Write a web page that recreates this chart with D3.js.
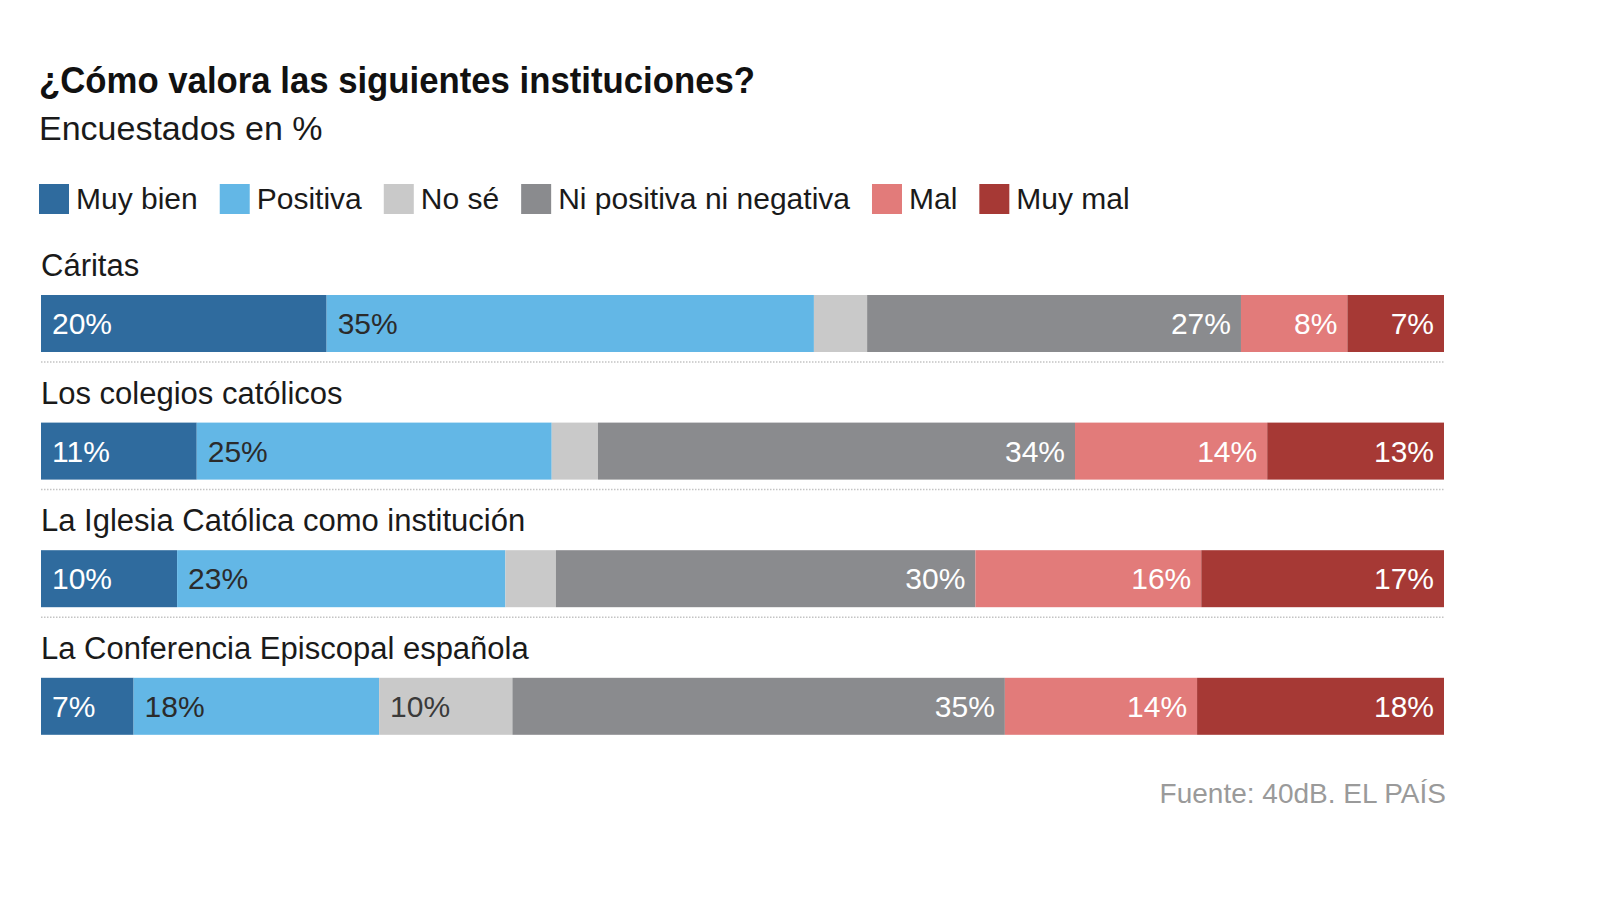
<!DOCTYPE html>
<html>
<head>
<meta charset="utf-8">
<script src="https://cdn.jsdelivr.net/npm/d3@7"></script>
<style>
  html, body { margin: 0; padding: 0; background: #fff; }
  svg text { font-family: "Liberation Sans", Arial, sans-serif; }
</style>
</head>
<body>
<svg id="chart" width="1600" height="900"></svg>
<script>
// ---- data ----
const categories = [
  "Cáritas",
  "Los colegios católicos",
  "La Iglesia Católica como institución",
  "La Conferencia Episcopal española"
];
const seriesNames = ["Muy bien", "Positiva", "No sé", "Ni positiva ni negativa", "Mal", "Muy mal"];
const muyBien   = [20.4, 11.1, 9.7, 6.6];
const positiva  = [34.8, 25.3, 23.4, 17.5];
const noSe      = [3.8, 3.3, 3.6, 9.5];
const niNi      = [26.7, 34.0, 29.9, 35.1];
const mal       = [7.6, 13.7, 16.1, 13.7];
const muyMal    = [6.9, 12.6, 17.3, 17.6];
const title = "¿Cómo valora las siguientes instituciones?";
const subtitle = "Encuestados en %";
const source = "Fuente: 40dB. EL PAÍS";

// ---- styles ----
const colors = ["#2f6b9e", "#63b7e6", "#c9c9c9", "#8a8b8e", "#e27b7a", "#a63935"];
const labelColors = ["#fff", "#2b2b2b", "#3a3a3a", "#fff", "#fff", "#fff"];
const alignRight = [false, false, false, true, true, true];

const seriesValues = [muyBien, positiva, noSe, niNi, mal, muyMal];
const rows = categories.map((c, i) => {
  const o = { cat: c };
  seriesNames.forEach((s, j) => o[s] = seriesValues[j][i]);
  return o;
});

const svg = d3.select("#chart");

// Title / subtitle
svg.append("text")
  .attr("x", 39).attr("y", 93)
  .attr("font-size", 37).attr("font-weight", 700).attr("fill", "#111")
  .attr("textLength", 716).attr("lengthAdjust", "spacingAndGlyphs")
  .text(title);
svg.append("text")
  .attr("x", 39).attr("y", 140)
  .attr("font-size", 34).attr("fill", "#1a1a1a")
  .text(subtitle);

// Legend
const legend = svg.append("g");
let lx = 39;
seriesNames.forEach((s, j) => {
  legend.append("rect").attr("x", lx).attr("y", 184).attr("width", 30).attr("height", 30).attr("fill", colors[j]);
  const t = legend.append("text").attr("x", lx + 37).attr("y", 209)
    .attr("font-size", 30).attr("fill", "#1a1a1a").text(s);
  lx += 37 + t.node().getComputedTextLength() + 22;
});

// Scales
const x = d3.scaleLinear().domain([0, 1]).range([41, 1444]);
const rowTop = d3.scaleLinear().domain([0, 1]).range([295, 422.6]);
const barH = 57;

const stack = d3.stack().keys(seriesNames).offset(d3.stackOffsetExpand);
const stacked = stack(rows);

// category labels
svg.selectAll("text.cat").data(categories).join("text")
  .attr("class", "cat")
  .attr("x", 41)
  .attr("y", (d, i) => rowTop(i) - 19)
  .attr("font-size", 31).attr("fill", "#1a1a1a")
  .text(d => d);

// separators
svg.selectAll("line.sep").data(categories.slice(0, -1)).join("line")
  .attr("class", "sep")
  .attr("x1", x(0)).attr("x2", x(1))
  .attr("y1", (d, i) => rowTop(i) + barH + 10)
  .attr("y2", (d, i) => rowTop(i) + barH + 10)
  .attr("stroke", "#c4c4c4").attr("stroke-width", 1.5)
  .attr("stroke-dasharray", "1.5,1.5");

// bars
const layers = svg.selectAll("g.layer").data(stacked).join("g").attr("class", "layer");
layers.selectAll("rect").data(d => d.map(p => ({ p, key: d.key, idx: d.index }))).join("rect")
  .attr("x", d => x(d.p[0]))
  .attr("width", d => x(d.p[1]) - x(d.p[0]))
  .attr("y", (d, i) => rowTop(i))
  .attr("height", barH)
  .attr("fill", d => colors[d.idx]);

// value labels
const fmt = v => Math.round(v) + "%";
layers.selectAll("text").data(d => d.map((p, i) => ({ p, key: d.key, idx: d.index, v: rows[i][d.key] }))
    .filter(d => d.v >= 5)).join("text")
  .attr("x", d => alignRight[d.idx] ? x(d.p[1]) - 10 : x(d.p[0]) + 11)
  .attr("y", d => rowTop(categories.indexOf(d.p.data.cat)) + barH / 2 + 10.5)
  .attr("text-anchor", d => alignRight[d.idx] ? "end" : "start")
  .attr("font-size", 30)
  .attr("fill", d => labelColors[d.idx])
  .text(d => fmt(d.v));

// source
svg.append("text")
  .attr("x", 1446).attr("y", 803)
  .attr("text-anchor", "end")
  .attr("font-size", 28).attr("fill", "#9a9a9a")
  .text(source);
</script>
</body>
</html>
